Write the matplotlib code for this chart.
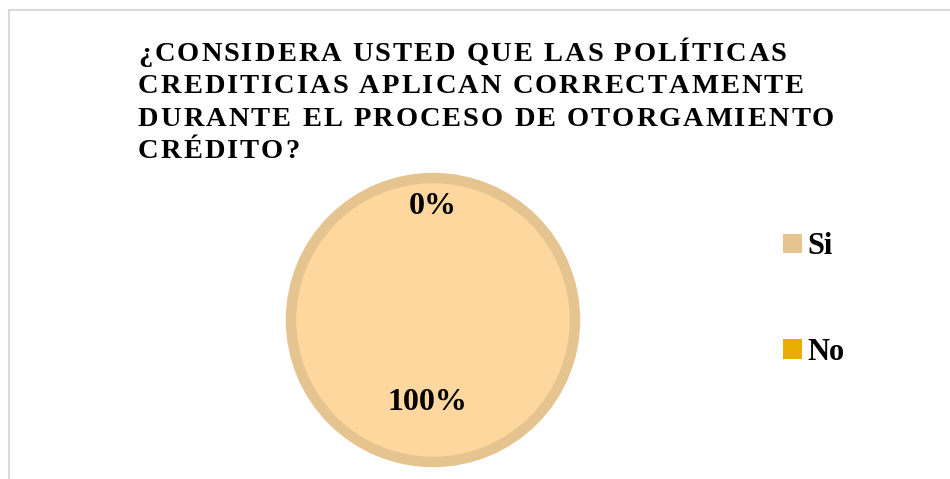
import numpy as np
import matplotlib
matplotlib.use("Agg")
from matplotlib import pyplot as plt
from matplotlib.patches import Patch, Rectangle, Circle
from matplotlib.font_manager import FontProperties, findfont, get_font

categorias = ["Si", "No"]
valores = [100, 0]
etiquetas = ["100%", "0%"]
titulo = ["¿CONSIDERA USTED QUE LAS POLÍTICAS",
          "CREDITICIAS APLICAN CORRECTAMENTE",
          "DURANTE EL PROCESO DE OTORGAMIENTO",
          "CRÉDITO?"]

relleno = "#FDD79E"
borde = "#E6C48F"
colores_leyenda = ["#E6C48F", "#E8AD00"]

W, H = 950, 479
fig = plt.figure(figsize=(W / 100, H / 100), dpi=100)
fig.patch.set_facecolor("white")

# marco gris del grafico
fig.patches.append(Rectangle((9 / W, -0.1), 1.2, (H - 10) / H + 0.1,
                             transform=fig.transFigure, fill=False,
                             edgecolor="#D9D9D9", linewidth=1.5))

# titulo con espaciado entre letras (caracter por caracter)
fp = FontProperties(family="Liberation Serif", weight="bold", size=20.5)
ft = get_font(findfont(fp))
ft.set_size(20.5, 100)
extra = 2.0
for i, linea in enumerate(titulo):
    x = 138.0
    yb = 61 + i * 32.4
    for c in linea:
        g = ft.load_char(ord(c))
        fig.text(x / W, 1 - yb / H, c, ha="left", va="baseline",
                 fontproperties=fp)
        x += g.linearHoriAdvance / 65536 + extra

# pie: centro (433, 320) px, radio 142 px
r = 142
ax = fig.add_axes([(433 - 150) / W, (H - 320 - 150) / H, 300 / W, 300 / H])
wedges, _ = ax.pie(valores, colors=[relleno, colores_leyenda[1]],
                   startangle=90, counterclock=False, radius=1,
                   wedgeprops=dict(linewidth=0))
ax.add_patch(Circle((0, 0), 1, fill=False, edgecolor=borde, linewidth=7.5))
ax.set_xlim(-150 / r, 150 / r)
ax.set_ylim(-150 / r, 150 / r)
ax.set_aspect("equal")
ax.axis("off")

dist = [0.58, 0.80]
dx = [-0.04, 0.0]
for w, lab, d, o in zip(wedges, etiquetas, dist, dx):
    ang = np.deg2rad((w.theta1 + w.theta2) / 2)
    if w.theta2 - w.theta1 > 359:
        ang = np.deg2rad(-90)
    ax.text(d * np.cos(ang) + o, d * np.sin(ang), lab, ha="center", va="center",
            family="Liberation Serif", weight="bold", fontsize=23)

handles = [Patch(facecolor=c, edgecolor="none") for c in colores_leyenda]
fig.legend(handles, categorias, loc="upper left",
           bbox_to_anchor=(771 / W, 1 - 220 / H), frameon=False,
           prop=dict(family="Liberation Serif", weight="bold", size=22),
           handlelength=0.6, handleheight=0.6, handletextpad=0.2,
           labelspacing=2.5, borderaxespad=0)

fig.savefig("out.png", dpi=100)
